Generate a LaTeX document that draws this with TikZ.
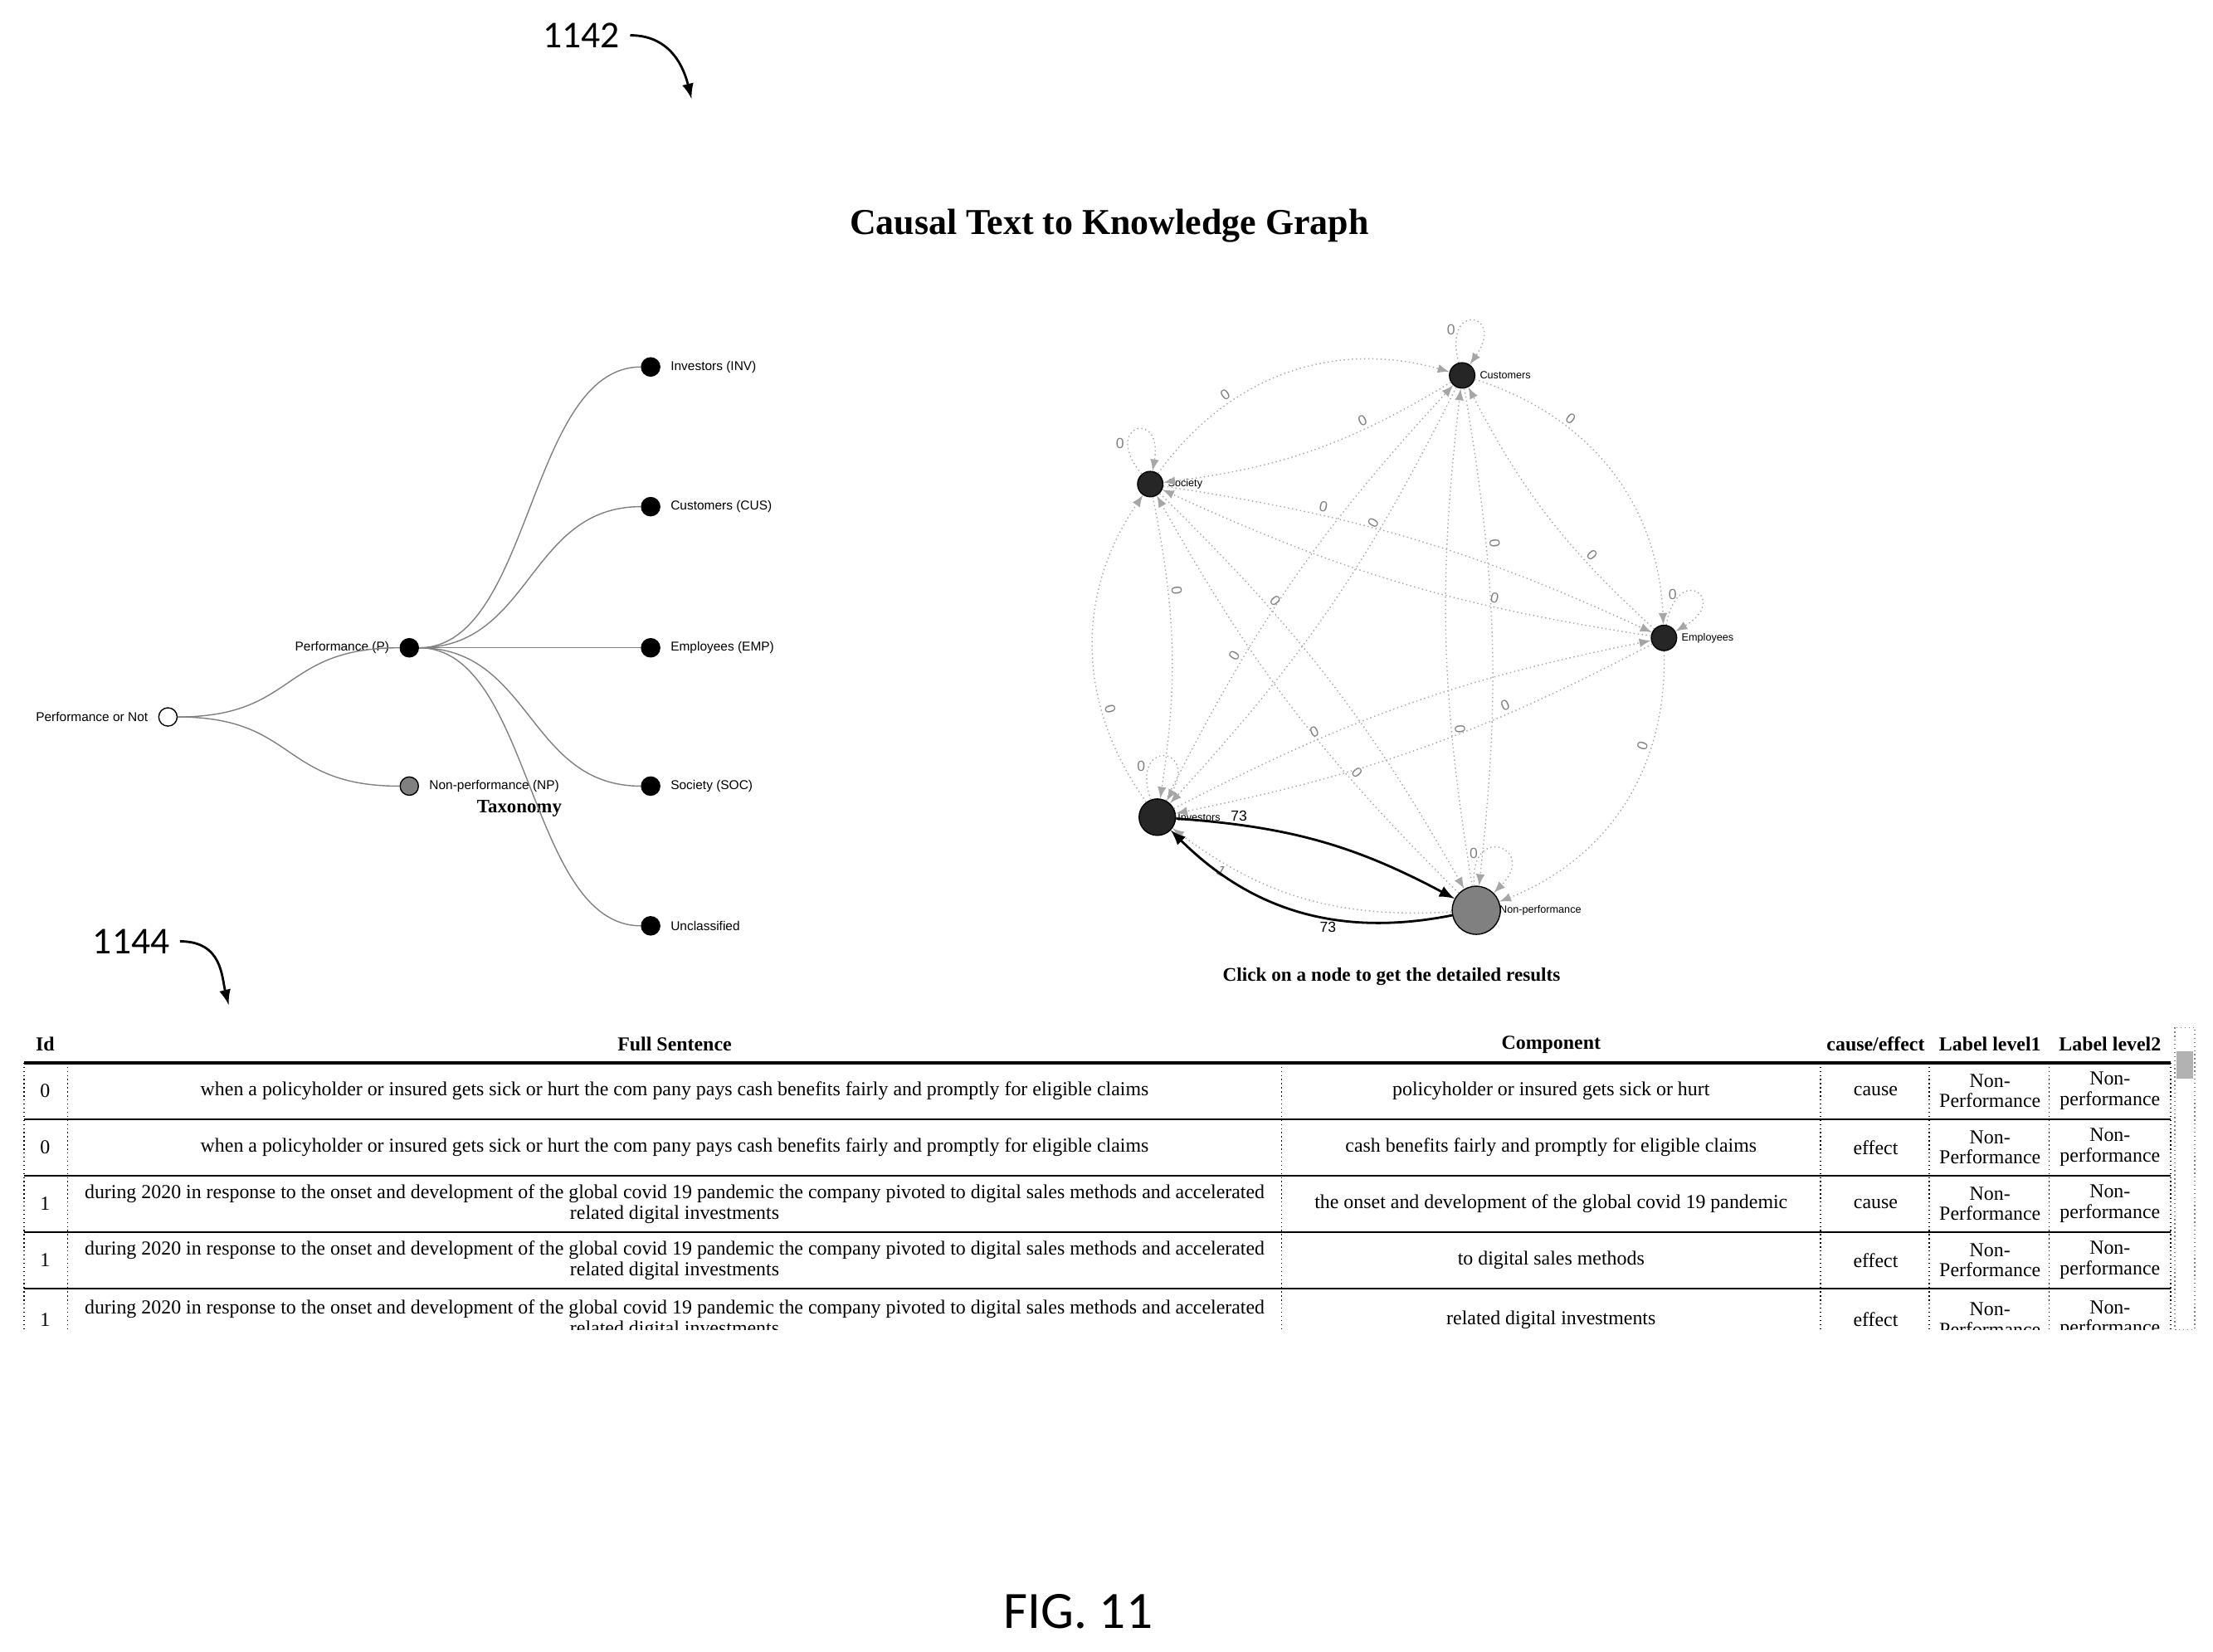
\documentclass[tikz,border=0pt]{standalone}
\usepackage{fontspec}
\setmainfont{Liberation Serif}
\setsansfont{Liberation Sans}
\newfontfamily\figfont{Carlito}
\usetikzlibrary{calc, arrows}

\begin{document}
\begin{tikzpicture}[x=0.01701cm, y=-0.01701cm, >=latex]
	\tikzstyle{tnode}=[circle, draw, fill=black, inner sep=0pt, minimum size=6.3pt]
	\tikzstyle{tlabel}=[font=\sffamily\fontsize{4.4}{5}\selectfont]
	\tikzstyle{gnode}=[circle, draw, fill=black!85, inner sep=0pt]
	\tikzstyle{glabel}=[font=\sffamily\fontsize{3.6}{4}\selectfont]
	\tikzstyle{edge}=[gray!70, densely dotted, thin, ->]
	\tikzstyle{elabel}=[font=\sffamily\fontsize{5}{5}\selectfont, gray, inner sep=1pt]
	\tikzstyle{cell}=[font=\fontsize{6.8}{7}\selectfont, align=center]
	\tikzstyle{head}=[font=\bfseries\fontsize{6.8}{8}\selectfont]

	\useasboundingbox (0,0) rectangle (1568,1170);

	% reference numerals
	\node[font=\figfont\fontsize{13}{13}\selectfont] (ref1) at (412,25) {1142};
	\coordinate (ref1tip) at (490,70);
	\draw[thick, ->] (ref1.east) .. controls +(30,0) and +(-5,-20) .. (ref1tip);
	\node[font=\figfont\fontsize{13}{13}\selectfont] (ref2) at (93,667) {1144};
	\coordinate (ref2tip) at (162,712);
	\draw[thick, ->] (ref2.east) .. controls +(30,0) and +(-5,-20) .. (ref2tip);

	\node[font=\bfseries\fontsize{12.5}{14}\selectfont] (title) at (786,160) {Causal Text to Knowledge Graph};

	% taxonomy tree
	\node[tnode, fill=white] (root) at (119,508) {};
	\node[tlabel, left=0pt] at (root.west) {Performance or Not};
	\node[tnode] (perf) at (290,459) {};
	\node[tlabel, left=0pt] at (perf.west) {Performance (P)};
	\node[tnode, fill=gray] (nonperf) at (290,557) {};
	\node[tlabel, right=0pt] at (nonperf.east) {Non-performance (NP)};
	\node[font=\bfseries\fontsize{6.5}{7}\selectfont] (tax) at (368,573) {Taxonomy};
	\foreach \y/\name/\txt in {260/inv/Investors (INV), 359/cus/Customers (CUS), 459/emp/Employees (EMP), 557/soc/Society (SOC), 656/unc/Unclassified} {
		\node[tnode] (\name) at (461,\y) {};
		\node[tlabel, right=0pt] at (\name.east) {\txt};
		\draw[gray, thin] (perf.east) .. controls +(80,0) and +(-80,0) .. (\name.west);
	}
	\draw[gray, thin] (root.east) .. controls +(85,0) and +(-85,0) .. (perf.west);
	\draw[gray, thin] (root.east) .. controls +(85,0) and +(-85,0) .. (nonperf.west);

	% knowledge graph
	\node[gnode, minimum size=8.7pt] (gcus) at (1036,266) {};
	\node[gnode, minimum size=8.7pt] (gsoc) at (815,343) {};
	\node[gnode, minimum size=8.7pt] (gemp) at (1179,452) {};
	\node[gnode, minimum size=12.5pt] (ginv) at (820,579) {};
	\node[gnode, minimum size=16.5pt, fill=gray] (gnp) at (1046,645) {};
	\node[glabel, right=-2pt] at (gcus.east) {Customers};
	\node[glabel, right=-2pt] at (gsoc.east) {Society};
	\node[glabel, right=-2pt] at (gemp.east) {Employees};
	\node[glabel, right=-3pt] at (ginv.east) {Investors};
	\node[glabel, right=-4pt] at (gnp.east) {Non-performance};
	\foreach \a/\b/\ang in {gcus/gemp/35, gemp/gnp/35, ginv/gsoc/35, gsoc/gcus/35, gcus/gsoc/12, gcus/ginv/8, ginv/gcus/8, gcus/gnp/8, gnp/gcus/8, gsoc/gemp/8, gemp/gsoc/8, gsoc/gnp/8, gnp/gsoc/8, ginv/gemp/8, gemp/ginv/8, gemp/gcus/10, gsoc/ginv/10} {
		\draw[edge] (\a) to[bend left=\ang] node[elabel, sloped, above, pos=0.3] {0} (\b);
	}
	\draw[edge] (gnp) to[bend left=20] node[elabel, sloped, below, pos=0.8] {1} (ginv);
	\foreach \n/\d in {gcus/80, gsoc/105, gemp/55, ginv/85, gnp/70} {
		\draw[edge] (\n) to[out=\d+25, in=\d-25, min distance=22pt] node[elabel, pos=0.25, left] {0} (\n);
	}
	\draw[thick, ->] (ginv) to[bend left=12] node[elabel, black, above, pos=0.2] {73} (gnp);
	\draw[thick, ->] (gnp) to[bend left=28] node[elabel, black, below, pos=0.4] {73} (ginv);
	\node[font=\bfseries\fontsize{6.6}{7}\selectfont] (click) at (986,692) {Click on a node to get the detailed results};

	% table
	\foreach \x/\txt in {32/Id, 478/Full Sentence, 1099/Component, 1329/{cause/effect}, 1410/Label level1, 1495/Label level2} {
		\node[head] at (\x,740) {\txt};
	}
	\begin{scope}
		\clip (10,750) rectangle (1540,942);
		\draw[line width=1pt] (17,753) -- (1538,753);
		\foreach \y in {793,833,873,913} {
			\draw[line width=0.7pt] (17,\y) -- (1538,\y);
		}
		\foreach \x in {17,48,908,1290,1367,1452,1538} {
			\draw[densely dotted] (\x,753) -- (\x,950);
		}
		\foreach \y/\id/\sent/\comp/\ce in {
			773/0/{when a policyholder or insured gets sick or hurt the com pany pays cash benefits fairly and promptly for eligible claims}/{policyholder or insured gets sick or hurt}/cause,
			813/0/{when a policyholder or insured gets sick or hurt the com pany pays cash benefits fairly and promptly for eligible claims}/{cash benefits fairly and promptly for eligible claims}/effect,
			853/1/{during 2020 in response to the onset and development of the global covid 19 pandemic the company pivoted to digital sales methods and accelerated\\related digital investments}/{the onset and development of the global covid 19 pandemic}/cause,
			893/1/{during 2020 in response to the onset and development of the global covid 19 pandemic the company pivoted to digital sales methods and accelerated\\related digital investments}/{to digital sales methods}/effect,
			935/1/{during 2020 in response to the onset and development of the global covid 19 pandemic the company pivoted to digital sales methods and accelerated\\related digital investments}/{related digital investments}/effect} {
			\node[cell] at (32,\y) {\id};
			\node[cell] at (478,\y) {\sent};
			\node[cell] at (1099,\y) {\comp};
			\node[cell] at (1329,\y) {\ce};
			\node[cell] at (1410,\y) {Non-\\Performance};
			\node[cell] at (1495,\y) {Non-\\performance};
		}
	\end{scope}
	% scroll bar
	\draw[densely dotted, gray] (1541,728) rectangle (1555,942);
	\fill[gray!60] (1542,745) rectangle (1554,764);

	\node[font=\figfont\fontsize{18}{18}\selectfont] (fig) at (764,1142) {FIG. 11};
\end{tikzpicture}
\end{document}
